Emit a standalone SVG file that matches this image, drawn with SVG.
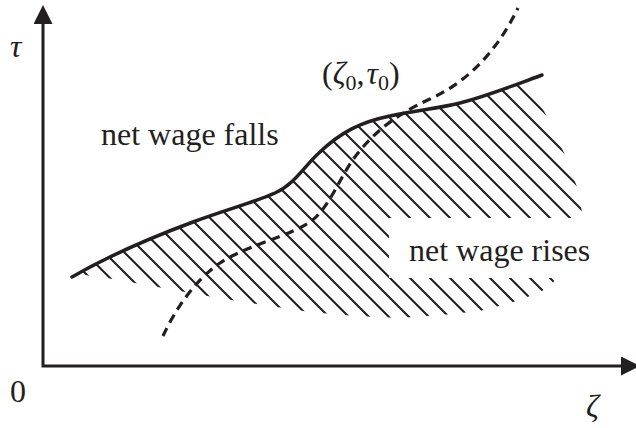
<svg xmlns="http://www.w3.org/2000/svg" width="636" height="428" viewBox="0 0 636 428">
<style>
.ink{fill:none;stroke:#231f20;stroke-linecap:round;stroke-linejoin:round}
.axis{fill:none;stroke:#231f20;stroke-width:3;stroke-linejoin:miter}
.curve{stroke-width:3.5}
.dash{stroke-width:3.2;stroke-dasharray:9 6;stroke-linecap:butt}
.hatch{fill:none;stroke:#231f20;stroke-width:2.1}
.lbl{font-family:"Liberation Serif","Times New Roman",serif;font-size:32px;fill:#231f20}
.it{font-style:italic}
</style>
<defs>
<marker id="arr" markerUnits="userSpaceOnUse" viewBox="0 0 19 19" refX="0" refY="9.5" markerWidth="19" markerHeight="19" orient="auto-start-reverse">
<path d="M0,0 L19,9.5 L0,19 Z" fill="#231f20"/>
</marker>
<clipPath id="belowCurve">
<path d="M72,277 C110,255 150,238 193,222 C225,210 255,202 275,193 C295,184 305,165 320,152 C340,133 360,122 390,116 C420,110 440,108 460,103 C490,95 520,83 542,75 L620,75 L620,428 L60,428 Z"/>
</clipPath>
<clipPath id="hatchArea">
<path d="M60,240 L300,90 L526,40 L528,82 L545,113 L565,155 L577,187 L582,212 L584,218 L389,218 L389,278 L556,278 L553,283 L542,291 L525,298 L510,303 L480,311 L442,315 L400,318 L355,316 L310,312 L263,305 L213,297 L163,288 L113,279 L85,275 L60,280 Z"/>
</clipPath>
</defs>

<g id="axes">
<path class="axis" d="M43,24 L43,366 L621,366" marker-start="url(#arr)" marker-end="url(#arr)"/>
</g>

<g id="hatching" clip-path="url(#belowCurve)">
<g clip-path="url(#hatchArea)">
<path class="hatch" d="M-188,0 l428,428 M-168,0 l428,428 M-148,0 l428,428 M-128,0 l428,428 M-108,0 l428,428 M-88,0 l428,428 M-68,0 l428,428 M-48,0 l428,428 M-28,0 l428,428 M-8,0 l428,428 M12,0 l428,428 M32,0 l428,428 M52,0 l428,428 M72,0 l428,428 M92,0 l428,428 M112,0 l428,428 M132,0 l428,428 M152,0 l428,428 M172,0 l428,428 M192,0 l428,428 M212,0 l428,428 M232,0 l428,428 M252,0 l428,428 M272,0 l428,428 M292,0 l428,428 M312,0 l428,428 M332,0 l428,428 M352,0 l428,428 M372,0 l428,428 M392,0 l428,428 M412,0 l428,428 M432,0 l428,428 M452,0 l428,428"/>
</g>
</g>

<g id="connectors">
<path id="boundary" class="ink curve" d="M72,277 C110,255 150,238 193,222 C225,210 255,202 275,193 C295,184 305,165 320,152 C340,133 360,122 390,116 C420,110 440,108 460,103 C490,95 520,83 542,75"/>
<path id="dashed" class="ink dash" d="M163,336 C175,310 195,280 220,263 C245,246 290,236 310,222 C330,208 340,175 358,153 C375,132 395,115 430,99 C465,83 495,55 518,8"/>
</g>

<g id="labels">
<text class="lbl it" x="10" y="57" font-size="35">τ</text>
<text class="lbl" x="10" y="402">0</text>
<text class="lbl it" x="586" y="417" font-size="40">ζ</text>
<text class="lbl" x="101" y="145">net wage falls</text>
<text class="lbl" x="409" y="261">net wage rises</text>
<text class="lbl" x="322" y="84">(<tspan class="it">ζ</tspan><tspan font-size="22" dy="6">0</tspan><tspan dy="-6">,</tspan><tspan class="it" dx="2">τ</tspan><tspan font-size="22" dy="6">0</tspan><tspan dy="-6">)</tspan></text>
</g>
</svg>
